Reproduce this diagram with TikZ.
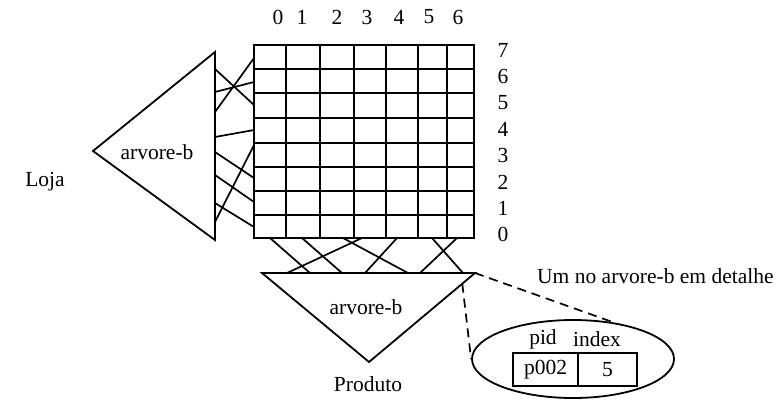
\documentclass[tikz,border=0pt]{standalone}
\usepackage{fontspec}
\setmainfont{Liberation Serif}
\usetikzlibrary{shapes.geometric, positioning, calc}
\tikzstyle{txt} = [inner sep=0pt, font=\fontsize{21.5}{24}\selectfont]
\tikzstyle{tree} = [draw=black, line width=1.8pt, line join=miter]
\tikzstyle{gridline} = [draw=black, line width=1.8pt]
\tikzstyle{link} = [draw=black, line width=1.7pt]
\tikzstyle{zoomline} = [draw=black, line width=1.7pt, dash pattern=on 9pt off 6pt]
\tikzstyle{cell} = [rectangle, draw=black, line width=1.8pt, minimum height=33pt, inner sep=0pt, outer sep=0pt, font=\fontsize{21.5}{24}\selectfont]

\begin{document}
\begin{tikzpicture}[x=1pt, y=-1pt]
\useasboundingbox (0,0) rectangle (781,400);

% Grid
\foreach \x in {254,286,320,354,386,418,447,474}
  \draw [gridline] (\x,45) -- (\x,238);
\foreach \y in {45,69,93,118,143,167,191,215,238}
  \draw [gridline] (254,\y) -- (474,\y);
\draw [gridline] (254,45) rectangle (474,238);

% Column and row numbers
\foreach \x [count=\i from 0] in {278,302,337,367,399,429,458}
  \node (col\i) [txt] at (\x,17) {\i};
\foreach \r in {0,...,7}
  \node (row\r) [txt] at (503,{50+(7-\r)*26.4}) {\r};

% Loja tree
\coordinate (ltApex) at (93,151);
\coordinate (ltTop) at (215,52);
\coordinate (ltBot) at (215,240);
\draw [tree] (ltApex) -- (ltTop) -- (ltBot) -- cycle;
\node (lojaTree) [txt] at (157,152) {arvore-b};
\node (loja) [txt] at (45,182) {Loja};

% Produto tree
\coordinate (btLeft) at (262,273);
\coordinate (btRight) at (475,273);
\coordinate (btApex) at (369,362);
\draw [tree] (btLeft) -- (btRight) -- (btApex) -- cycle;
\node (produtoTree) [txt] at (366,307) {arvore-b};
\node (produto) [txt] at (368,384) {Produto};

% Links tree -> grid
\foreach \a/\b [count=\i] in {69/105, 92/82, 112/58, 137/130, 152/178, 175/202, 203/227, 222/145} {
  \coordinate (lt\i) at (215,\a);
  \coordinate (gl\i) at (254,\b);
  \draw [link] (lt\i) -- (gl\i);
}
\foreach \a/\b [count=\i] in {270/310, 302/342, 343/408, 362/287, 397/365, 432/463, 457/420} {
  \coordinate (gb\i) at (\a,238);
  \coordinate (bt\i) at (\b,273);
  \draw [link] (gb\i) -- (bt\i);
}

% Node detail
\node (caption) [txt, anchor=west] at (537,276) {Um no arvore-b em detalhe};
\node (detail) [ellipse, draw=black, line width=1.8pt, minimum width=202pt, minimum height=78pt] at (573,359) {};
\node (pidCell) [cell, minimum width=65pt] at (545.5,369.5) {p002};
\node (idxCell) [cell, minimum width=59pt, right=0pt of pidCell] {5};
\node (pidHead) [txt] at (543,339) {pid};
\node (idxHead) [txt] at (597,339) {index};

% Zoom lines
\coordinate (zoomA) at ($(btRight)!0.12!(btApex)$);
\draw [zoomline] (btRight) -- (detail.42);
\draw [zoomline] (zoomA) -- (detail.west);

\end{tikzpicture}
\end{document}
